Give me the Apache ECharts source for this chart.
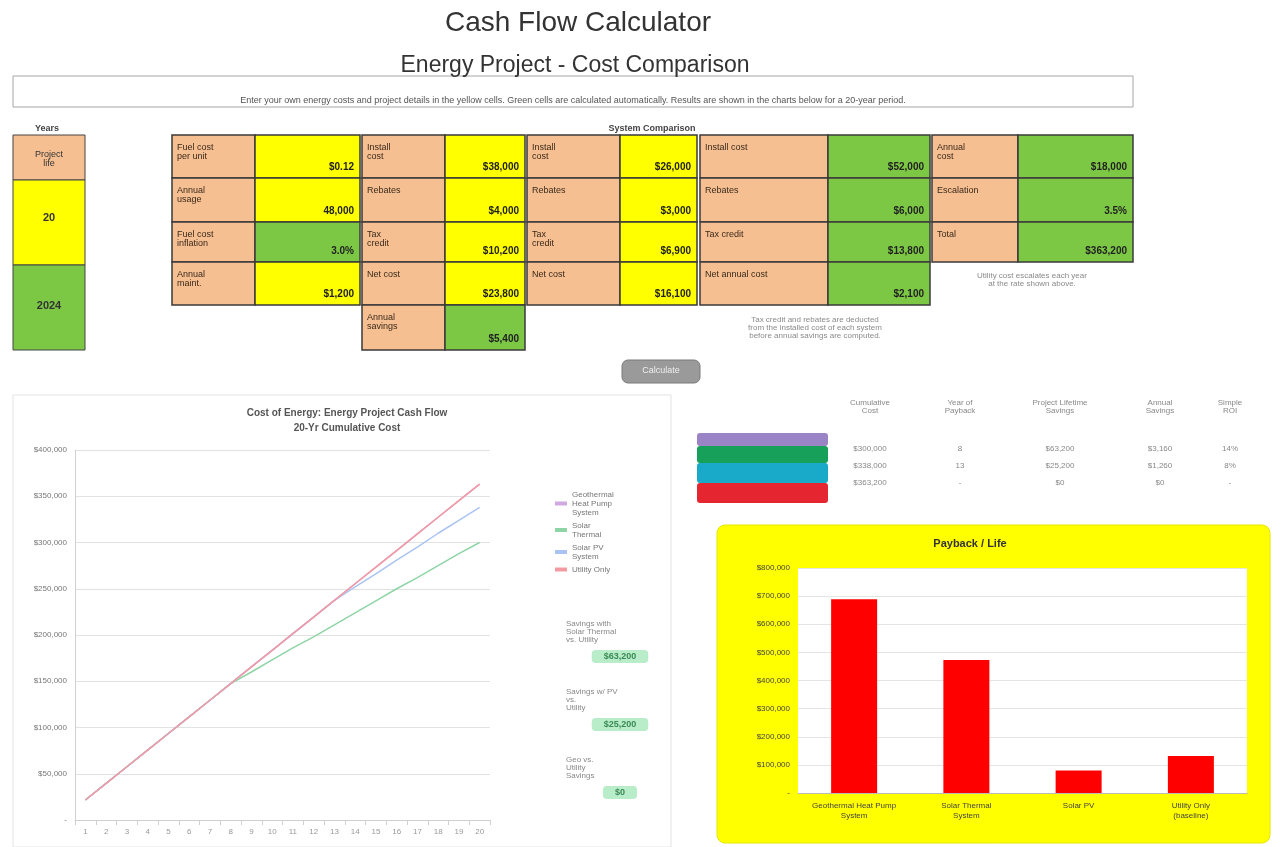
<!DOCTYPE html>
<html>
<head>
<meta charset="utf-8">
<title>Cash Flow Calculator</title>
<script src="https://cdn.jsdelivr.net/npm/echarts@6/dist/echarts.min.js"></script>
<style>
  html, body { margin: 0; padding: 0; background: #fff; }
  #main { width: 1283px; height: 847px; }
</style>
</head>
<body>
<div id="main"></div>
<script>
// ---- data ----
var years = ['1','2','3','4','5','6','7','8','9','10','11','12','13','14','15','16','17','18','19','20'];
var lineNames = ['Geothermal\nHeat Pump\nSystem', 'Solar\nThermal', 'Solar PV\nSystem', 'Utility Only'];
var geoCost   = [21600, 39600, 57600, 75600, 93500, 111500, 129500, 147500, 165500, 183400, 201400, 219400, 237400, 255400, 273300, 291300, 309300, 327300, 345300, 363200];
var thermCost = [21600, 39600, 57600, 75600, 93500, 111500, 129500, 147500, 160000, 173000, 186000, 198000, 211000, 224000, 237000, 250000, 262000, 275000, 288000, 300000];
var pvCost    = [21600, 39600, 57600, 75600, 93500, 111500, 129500, 147500, 165500, 183400, 201400, 219400, 237400, 252000, 266000, 281000, 295000, 310000, 324000, 338000];
var utilCost  = [21600, 39600, 57600, 75600, 93500, 111500, 129500, 147500, 165500, 183400, 201400, 219400, 237400, 255400, 273300, 291300, 309300, 327300, 345300, 363200];

var barCats = ['Geothermal Heat Pump\nSystem', 'Solar Thermal\nSystem', 'Solar PV', 'Utility Only\n(baseline)'];
var barVals = [689000, 473000, 80000, 132000];

var savingsLabels = ['Savings with\nSolar Thermal\nvs. Utility', 'Savings w/ PV\nvs.\nUtility', 'Geo vs.\nUtility\nSavings'];
var savingsVals = ['$63,200', '$25,200', '$0'];

var tableLabels = [
  ['Fuel cost\nper unit', 'Annual\nusage', 'Fuel cost\ninflation', 'Annual\nmaint.'],
  ['Install\ncost', 'Rebates', 'Tax\ncredit', 'Net cost', 'Annual\nsavings'],
  ['Install\ncost', 'Rebates', 'Tax\ncredit', 'Net cost'],
  ['Install cost', 'Rebates', 'Tax credit', 'Net annual cost'],
  ['Annual\ncost', 'Escalation', 'Total']
];
var tableValues = [
  ['$0.12', '48,000', '3.0%', '$1,200'],
  ['$38,000', '$4,000', '$10,200', '$23,800', '$5,400'],
  ['$26,000', '$3,000', '$6,900', '$16,100'],
  ['$52,000', '$6,000', '$13,800', '$2,100'],
  ['$18,000', '3.5%', '$363,200']
];
var tableHeader = 'System Comparison';

var sumHeader = ['Cumulative\nCost', 'Year of\nPayback', 'Project Lifetime\nSavings', 'Annual\nSavings', 'Simple\nROI'];
var sumRows = [
  ['$300,000', '8', '$63,200', '$3,160', '14%'],
  ['$338,000', '13', '$25,200', '$1,260', '8%'],
  ['$363,200', '-', '$0', '$0', '-']
];

// ---- layout helpers ----
var PEACH = '#f6bf92', YEL = '#ffff00', GRN = '#7cc845';
var rowY = [135, 178, 222, 262, 305, 350];
var groupLayout = [
  { x: 172, lw: 83, vw: 105, fills: [YEL, YEL, GRN, YEL] },
  { x: 362, lw: 83, vw: 80, fills: [YEL, YEL, YEL, YEL, GRN] },
  { x: 527, lw: 93, vw: 77, fills: [YEL, YEL, YEL, YEL] },
  { x: 700, lw: 128, vw: 102, fills: [GRN, GRN, GRN, GRN] },
  { x: 932, lw: 86, vw: 115, fills: [GRN, GRN, GRN] }
];

var graphics = [];

// top text box
graphics.push({ type: 'rect', shape: { x: 13, y: 76, width: 1120, height: 31 }, style: { fill: '#fff', stroke: '#a6a6a6', lineWidth: 1 } });
graphics.push({ type: 'text', x: 573, y: 96, style: { text: 'Enter your own energy costs and project details in the yellow cells. Green cells are calculated automatically. Results are shown in the charts below for a 20-year period.', fill: '#555', font: '9px Liberation Sans', align: 'center' } });

// left narrow column
graphics.push({ type: 'rect', shape: { x: 13, y: 135, width: 72, height: 45 }, style: { fill: PEACH, stroke: '#444' } });
graphics.push({ type: 'rect', shape: { x: 13, y: 180, width: 72, height: 85 }, style: { fill: YEL, stroke: '#444' } });
graphics.push({ type: 'rect', shape: { x: 13, y: 265, width: 72, height: 85 }, style: { fill: GRN, stroke: '#444' } });
graphics.push({ type: 'text', x: 47, y: 124, style: { text: 'Years', fill: '#444', font: 'bold 9px Liberation Sans', align: 'center' } });
graphics.push({ type: 'text', x: 49, y: 150, style: { text: 'Project\nlife', fill: '#333', font: '9px Liberation Sans', align: 'center' } });
graphics.push({ type: 'text', x: 49, y: 212, style: { text: '20', fill: '#333', font: 'bold 11px Liberation Sans', align: 'center' } });
graphics.push({ type: 'text', x: 49, y: 300, style: { text: '2024', fill: '#333', font: 'bold 11px Liberation Sans', align: 'center' } });

// cell groups
groupLayout.forEach(function (g, gi) {
  tableLabels[gi].forEach(function (lab, ri) {
    var y0 = rowY[ri], h = rowY[ri + 1] - rowY[ri];
    graphics.push({ type: 'rect', shape: { x: g.x, y: y0, width: g.lw, height: h }, style: { fill: PEACH, stroke: '#3a3a3a', lineWidth: 1.5 } });
    graphics.push({ type: 'rect', shape: { x: g.x + g.lw, y: y0, width: g.vw, height: h }, style: { fill: g.fills[ri], stroke: '#3a3a3a', lineWidth: 1.5 } });
    graphics.push({ type: 'text', x: g.x + 5, y: y0 + 8, style: { text: lab, fill: '#3a2a1a', font: '9px Liberation Sans' } });
    graphics.push({ type: 'text', x: g.x + g.lw + g.vw - 6, y: y0 + h - 16, style: { text: tableValues[gi][ri], fill: '#222', font: 'bold 10px Liberation Sans', align: 'right' } });
  });
});
graphics.push({ type: 'text', x: 652, y: 124, style: { text: tableHeader, fill: '#444', font: 'bold 9px Liberation Sans', align: 'center' } });
graphics.push({ type: 'text', x: 815, y: 316, style: { text: 'Tax credit and rebates are deducted\nfrom the installed cost of each system\nbefore annual savings are computed.', fill: '#8a8a8a', font: '8px Liberation Sans', align: 'center' } });
graphics.push({ type: 'text', x: 1032, y: 272, style: { text: 'Utility cost escalates each year\nat the rate shown above.', fill: '#8a8a8a', font: '8px Liberation Sans', align: 'center' } });

// button
graphics.push({ type: 'rect', shape: { x: 622, y: 360, width: 78, height: 23, r: 6 }, style: { fill: '#9a9a9a', stroke: '#7a7a7a' } });
graphics.push({ type: 'text', x: 661, y: 366, style: { text: 'Calculate', fill: '#eee', font: '9px Liberation Sans', align: 'center' } });

// panel border
graphics.push({ type: 'rect', shape: { x: 13, y: 395, width: 658, height: 452 }, style: { fill: 'none', stroke: '#e3e3e3' } });

// savings blocks
savingsLabels.forEach(function (s, i) {
  var y0 = 620 + i * 68;
  graphics.push({ type: 'text', x: 566, y: y0, style: { text: s, fill: '#888', font: '8px Liberation Sans' } });
  graphics.push({ type: 'text', x: 620, y: y0 + 30, style: { text: savingsVals[i], fill: '#3a8a55', font: 'bold 9px Liberation Sans', backgroundColor: '#b9ecc9', padding: [2, 12], borderRadius: 4, align: 'center' } });
});

// colour key bands + summary table
var bandColors = ['#9b84c6', '#17a05a', '#19a9c9', '#e52630'];
var bandY = [433, 446, 463, 483, 503];
bandColors.forEach(function (c, i) {
  graphics.push({ type: 'rect', shape: { x: 697, y: bandY[i], width: 131, height: bandY[i + 1] - bandY[i], r: 3 }, style: { fill: c } });
});
var sumColX = [870, 960, 1060, 1160, 1230];
sumHeader.forEach(function (h, ci) {
  graphics.push({ type: 'text', x: sumColX[ci], y: 399, style: { text: h, fill: '#888', font: '8px Liberation Sans', align: 'center' } });
});
sumRows.forEach(function (r, ri) {
  r.forEach(function (v, ci) {
    graphics.push({ type: 'text', x: sumColX[ci], y: 445 + ri * 17, style: { text: v, fill: '#888', font: '8px Liberation Sans', align: 'center' } });
  });
});

// bar chart frame (yellow)
graphics.push({ type: 'rect', z: -10, shape: { x: 717, y: 525, width: 553, height: 318, r: 8 }, style: { fill: '#ffff00', stroke: '#e6e600' } });

// ---- chart ----
var chart = echarts.init(document.getElementById('main'));

var option = {
  backgroundColor: '#fff',
  animation: false,
  title: [
    { text: 'Cash Flow Calculator', left: 573, top: 4, textAlign: 'center', textStyle: { fontSize: 28, fontWeight: 'normal', color: '#333', fontFamily: 'Liberation Sans' } },
    { text: 'Energy Project - Cost Comparison', left: 570, top: 49, textAlign: 'center', textStyle: { fontSize: 23, fontWeight: 'normal', color: '#333', fontFamily: 'Liberation Sans' } },
    { text: 'Cost of Energy: Energy Project Cash Flow\n20-Yr Cumulative Cost', left: 342, top: 401, textAlign: 'center', textStyle: { fontSize: 10, fontWeight: 'bold', color: '#555', lineHeight: 15, fontFamily: 'Liberation Sans' } },
    { text: 'Payback / Life', left: 965, top: 533, textAlign: 'center', textStyle: { fontSize: 11, fontWeight: 'bold', color: '#333', fontFamily: 'Liberation Sans' } }
  ],
  legend: {
    data: lineNames,
    orient: 'vertical',
    left: 550,
    top: 485,
    itemWidth: 12,
    itemHeight: 4,
    itemGap: 4,
    icon: 'rect',
    textStyle: { fontSize: 8, color: '#777', fontFamily: 'Liberation Sans', lineHeight: 9 }
  },
  grid: [
    { left: 75, top: 450, width: 415, height: 370 },
    { left: 798, top: 568, width: 449, height: 225, show: true, backgroundColor: '#fff', borderWidth: 0 }
  ],
  xAxis: [
    {
      type: 'category', gridIndex: 0, data: years, boundaryGap: true,
      axisLine: { lineStyle: { color: '#d0d0d0' } }, axisTick: { show: true, lineStyle: { color: '#d0d0d0' } },
      axisLabel: { fontSize: 8, color: '#999', interval: 0 }
    },
    {
      type: 'category', gridIndex: 1, data: barCats,
      axisLine: { lineStyle: { color: '#bbb' } }, axisTick: { show: false },
      axisLabel: { fontSize: 8, color: '#444', interval: 0, lineHeight: 10 }
    }
  ],
  yAxis: [
    {
      type: 'value', gridIndex: 0, min: 0, max: 400000, interval: 50000,
      axisLine: { show: true, lineStyle: { color: '#d0d0d0' } },
      splitLine: { lineStyle: { color: '#e2e2e2' } },
      axisLabel: { fontSize: 8, color: '#777', formatter: function (v) { return v === 0 ? '-' : '$' + v.toLocaleString('en-US'); } }
    },
    {
      type: 'value', gridIndex: 1, min: 0, max: 800000, interval: 100000,
      axisLine: { show: false },
      splitLine: { lineStyle: { color: '#e4e4e4' } },
      axisLabel: { fontSize: 8, color: '#444', formatter: function (v) { return v === 0 ? '-' : '$' + v.toLocaleString('en-US'); } }
    }
  ],
  series: [
    { name: lineNames[0], type: 'line', xAxisIndex: 0, yAxisIndex: 0, data: geoCost, symbol: 'none', color: '#cfa9e0', lineStyle: { width: 1.5 } },
    { name: lineNames[1], type: 'line', xAxisIndex: 0, yAxisIndex: 0, data: thermCost, symbol: 'none', color: '#8ed4a6', lineStyle: { width: 1.5 } },
    { name: lineNames[2], type: 'line', xAxisIndex: 0, yAxisIndex: 0, data: pvCost, symbol: 'none', color: '#a9c3f2', lineStyle: { width: 1.5 } },
    { name: lineNames[3], type: 'line', xAxisIndex: 0, yAxisIndex: 0, data: utilCost, symbol: 'none', color: '#f29aa2', lineStyle: { width: 1.5 } },
    { name: 'Payback', type: 'bar', xAxisIndex: 1, yAxisIndex: 1, data: barVals, barWidth: 46, itemStyle: { color: '#ff0000' } }
  ],
  graphic: graphics
};

chart.setOption(option);
</script>
</body>
</html>
